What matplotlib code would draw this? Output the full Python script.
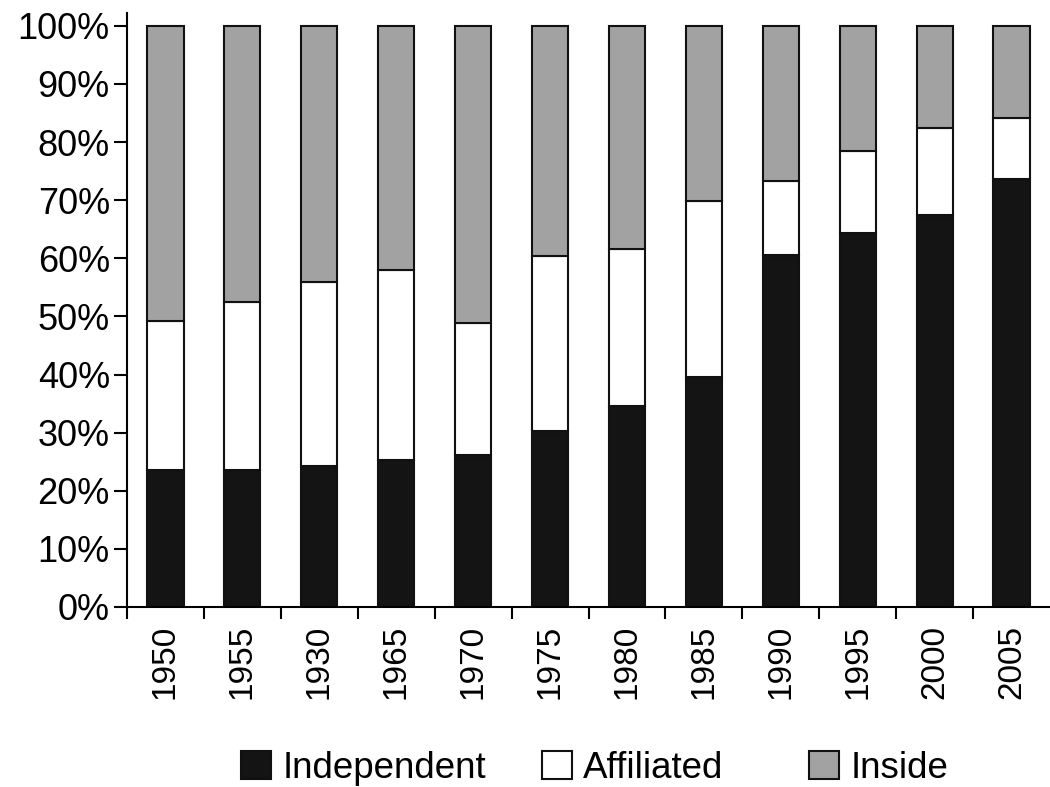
import matplotlib.pyplot as plt
import numpy as np

years = ['1950', '1955', '1930', '1965', '1970', '1975', '1980', '1985',
         '1990', '1995', '2000', '2005']
independent = [23.6, 23.5, 24.2, 25.3, 26.2, 30.3, 34.6, 39.6, 60.6, 64.4, 67.5, 73.7]
affiliated_top = [49.2, 52.5, 55.9, 58.0, 48.9, 60.4, 61.6, 69.9, 73.3, 78.5, 82.4, 84.2]
affiliated = [a - i for a, i in zip(affiliated_top, independent)]
inside = [100 - a for a in affiliated_top]

plt.rcParams['font.family'] = ['Liberation Sans', 'DejaVu Sans']

fig = plt.figure(figsize=(10.5, 7.87), dpi=100)
ax = fig.add_axes([127 / 1050, 180 / 787, 923 / 1050, 594 / 787])

x = np.arange(len(years))
w = 0.47
kw = dict(width=w, edgecolor='#111111', linewidth=1.5)
b1 = ax.bar(x, independent, color='#141414', **kw)
b2 = ax.bar(x, affiliated, bottom=independent, color='white', **kw)
b3 = ax.bar(x, inside, bottom=affiliated_top, color='#a2a2a2', **kw)

ax.set_xlim(-0.5, len(years) - 0.5)
ax.set_ylim(0, 102.2)
ax.set_yticks(np.arange(0, 101, 10))
ax.set_yticklabels([f'{v}%' for v in range(0, 101, 10)], fontsize=26)
ax.set_xticks(x - 0.5)
ax.set_xticklabels([])
ax.set_xticks(x, minor=True)
ax.set_xticklabels(years, minor=True, rotation=90, fontsize=24)
ax.tick_params(axis='x', which='minor', length=0, pad=13)
ax.tick_params(axis='x', which='major', length=8.6, width=1.5, direction='out')
ax.tick_params(axis='y', length=9.4, width=1.5, direction='out', pad=3)

for s in ['top', 'right']:
    ax.spines[s].set_visible(False)
for s in ['left', 'bottom']:
    ax.spines[s].set_linewidth(1.5)

for h, lab, lx in [(b1, 'Independent', 241), (b2, 'Affiliated', 542), (b3, 'Inside', 809)]:
    fig.legend([h], [lab], loc='center left', bbox_to_anchor=(lx / 1050, 0.024),
               frameon=False, fontsize=26.5, handlelength=0.82, handleheight=0.8,
               handletextpad=0.3, borderpad=0, borderaxespad=0)

fig.savefig('out.png', dpi=100)
